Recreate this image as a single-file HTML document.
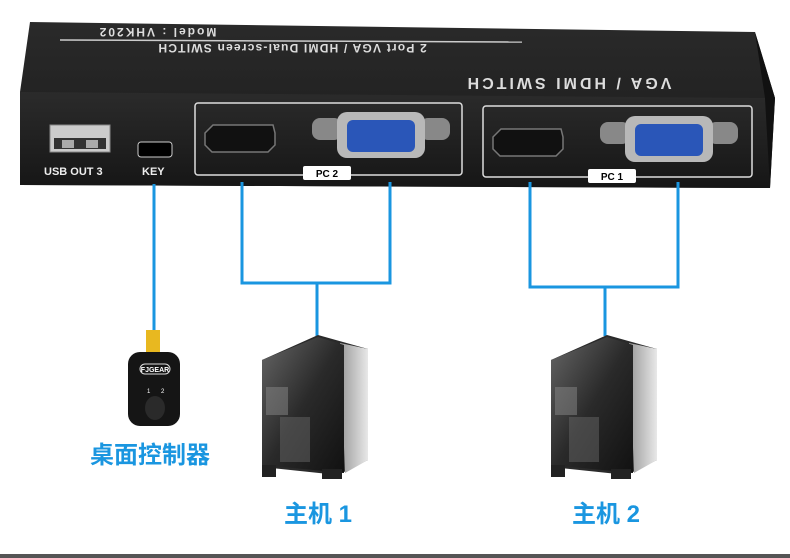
<!DOCTYPE html>
<html><head><meta charset="utf-8"><style>
body{margin:0;width:790px;height:558px;background:#fff;overflow:hidden}
svg{display:block}
.t{font-family:"Liberation Sans","Noto Sans CJK SC",sans-serif;font-weight:bold;fill:#1a96e0}
</style></head><body>
<svg width="790" height="558" viewBox="0 0 790 558">
<defs>
<linearGradient id="top" x1="0" y1="0" x2="0" y2="1"><stop offset="0" stop-color="#2a2a2a"/><stop offset="1" stop-color="#1a1a1a"/></linearGradient>
<linearGradient id="front" x1="0" y1="0" x2="0" y2="1"><stop offset="0" stop-color="#2b2b2b"/><stop offset="1" stop-color="#161616"/></linearGradient>
<linearGradient id="side" x1="0" y1="0" x2="1" y2="0"><stop offset="0" stop-color="#9a9a9a"/><stop offset="1" stop-color="#e8e8e8"/></linearGradient>
<linearGradient id="glass" x1="0" y1="0" x2="1" y2="1"><stop offset="0" stop-color="#666"/><stop offset=".5" stop-color="#2a2a2a"/><stop offset="1" stop-color="#111"/></linearGradient>
<linearGradient id="rgb" x1="0" y1="0" x2="0" y2="1"><stop offset="0" stop-color="#ff9"/><stop offset=".3" stop-color="#6f6"/><stop offset=".6" stop-color="#6cf"/><stop offset="1" stop-color="#c6f"/></linearGradient>
<g id="pc">
<polygon points="2,25 58,0 108,14 108,125 78,140 2,132" fill="#2a2a2a"/>
<polygon points="80,8 108,14 108,125 85,138" fill="url(#side)"/>
<polygon points="2,25 58,2 84,10 84,138 2,130" fill="url(#glass)"/>
<line x1="86" y1="10" x2="86" y2="138" stroke="url(#rgb)" stroke-width="2"/>
<rect x="6" y="52" width="22" height="28" fill="#888" opacity=".5"/>
<rect x="20" y="82" width="30" height="45" fill="#666" opacity=".5"/>
<rect x="2" y="130" width="14" height="12" fill="#222"/><rect x="62" y="134" width="20" height="10" fill="#222"/>
</g>
</defs>
<polygon points="30,22 755,32 775,98 770,188 20,185 20,92" fill="url(#top)"/>
<polygon points="20,92 765,98 770,188 20,185" fill="url(#front)"/>
<polygon points="755,32 775,98 770,188 765,98" fill="#111"/>
<g font-family="Liberation Sans,sans-serif" font-weight="bold" fill="#ddd">
<text transform="translate(157,24) rotate(180)" text-anchor="middle" font-size="12" y="-4" letter-spacing="2">Model : VHK202</text>
<text transform="translate(292,40) rotate(180)" text-anchor="middle" font-size="12" y="-4" letter-spacing="1.2">2 Port VGA / HDMI Dual-screen SWITCH</text>
<text transform="translate(568,72) rotate(180)" text-anchor="middle" font-size="16" y="-6" letter-spacing="3">VGA / HDMI SWITCH</text>
</g>
<line x1="60" y1="40" x2="522" y2="42" stroke="#ccc" stroke-width="1.5"/>
<rect x="50" y="125" width="60" height="27" fill="#ccc" stroke="#888"/>
<rect x="54" y="138" width="52" height="11" fill="#333"/>
<rect x="62" y="140" width="12" height="8" fill="#aaa"/><rect x="86" y="140" width="12" height="8" fill="#aaa"/>
<rect x="138" y="142" width="34" height="15" rx="3" fill="#000" stroke="#ccc"/>
<text x="44" y="175" font-family="Liberation Sans,sans-serif" font-weight="bold" font-size="11" fill="#eee">USB OUT 3</text>
<text x="142" y="175" font-family="Liberation Sans,sans-serif" font-weight="bold" font-size="11" fill="#eee">KEY</text>
<rect x="195" y="103" width="267" height="72" rx="3" fill="none" stroke="#ddd" stroke-width="1.5"/>
<rect x="483" y="106" width="269" height="71" rx="3" fill="none" stroke="#ddd" stroke-width="1.5"/>
<rect x="303" y="166" width="48" height="14" rx="2" fill="#fff"/><text x="327" y="177" text-anchor="middle" font-family="Liberation Sans,sans-serif" font-size="10" font-weight="bold">PC 2</text>
<rect x="588" y="169" width="48" height="14" rx="2" fill="#fff"/><text x="612" y="180" text-anchor="middle" font-family="Liberation Sans,sans-serif" font-size="10" font-weight="bold">PC 1</text>
<g id="ports">
<polygon points="205,133 213,125 273,125 275,133 275,145 268,152 212,152 205,145" fill="#111" stroke="#777" stroke-width="1.5"/>
<rect x="312" y="118" width="30" height="22" rx="8" fill="#888"/>
<rect x="420" y="118" width="30" height="22" rx="8" fill="#888"/>
<rect x="337" y="112" width="88" height="46" rx="10" fill="#b8b8b8"/>
<rect x="347" y="120" width="68" height="32" rx="6" fill="#2a56b8"/>
</g>
<use href="#ports" transform="translate(288,4)"/>
<g stroke="#1a96e0" stroke-width="3" fill="none">
<line x1="154" y1="184" x2="154" y2="330"/>
<polyline points="242,182 242,283 390,283 390,182"/><line x1="317" y1="283" x2="317" y2="336"/>
<polyline points="530,182 530,287 678,287 678,182"/><line x1="605" y1="287" x2="605" y2="336"/>
</g>
<rect x="146" y="330" width="14" height="22" fill="#e8b820"/>
<rect x="128" y="352" width="52" height="74" rx="12" fill="#151515"/>
<rect x="140" y="364" width="30" height="10" rx="5" fill="none" stroke="#ddd"/>
<text x="155" y="372" text-anchor="middle" font-family="Liberation Sans,sans-serif" font-size="7" fill="#fff" font-weight="bold">FJGEAR</text>
<text x="147" y="393" font-size="6" fill="#fff" font-family="Liberation Sans,sans-serif">1</text><text x="161" y="393" font-size="6" fill="#fff" font-family="Liberation Sans,sans-serif">2</text>
<ellipse cx="155" cy="408" rx="10" ry="12" fill="#2a2a2a"/>
<use href="#pc" transform="translate(260,335)"/>
<use href="#pc" transform="translate(549,335)"/>
<text class="t" x="150" y="463" text-anchor="middle" font-size="24">桌面控制器</text>
<text class="t" x="318" y="522" text-anchor="middle" font-size="24">主机 1</text>
<text class="t" x="606" y="522" text-anchor="middle" font-size="24">主机 2</text>
<rect x="0" y="554" width="790" height="4" fill="#555"/>
</svg>
</body></html>
